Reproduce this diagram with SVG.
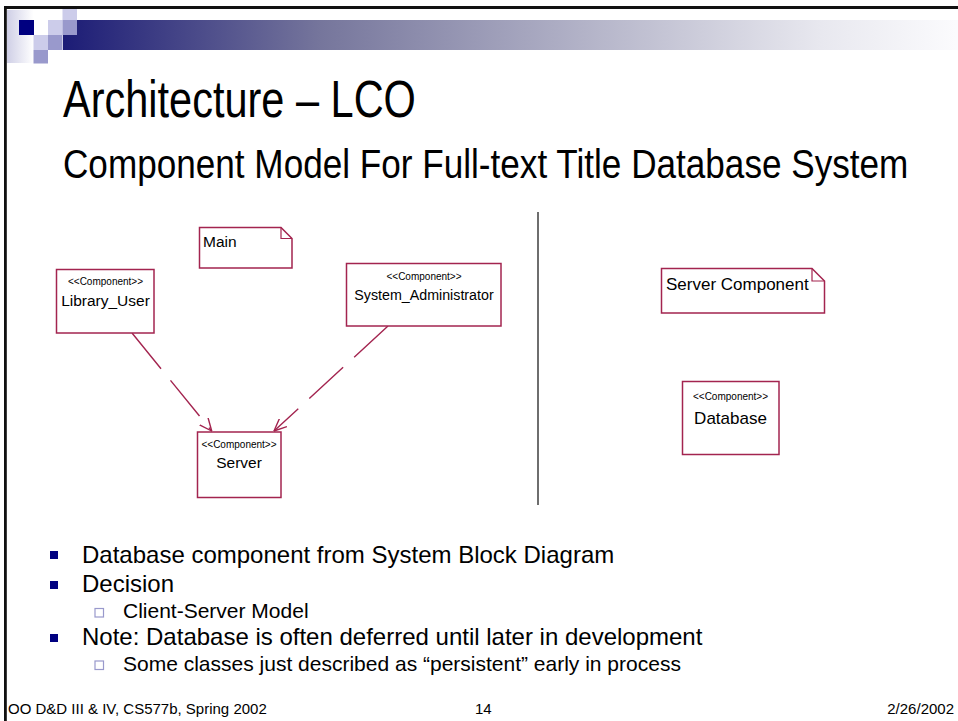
<svg xmlns="http://www.w3.org/2000/svg" width="958" height="721" viewBox="0 0 958 721">
  <defs>
    <linearGradient id="barGrad" x1="63" y1="0" x2="955" y2="0" gradientUnits="userSpaceOnUse">
      <stop offset="0" stop-color="#1c1c76"/>
      <stop offset="0.29" stop-color="#76769c"/>
      <stop offset="0.6" stop-color="#b6b6ca"/>
      <stop offset="0.85" stop-color="#e8e8ef"/>
      <stop offset="1" stop-color="#fbfbfd"/>
    </linearGradient>
    <linearGradient id="sideGrad" x1="0" y1="0" x2="1" y2="0">
      <stop offset="0" stop-color="#cfcfe6"/>
      <stop offset="1" stop-color="#ffffff"/>
    </linearGradient>
    <marker id="openArrow" viewBox="0 0 13 12" refX="12.5" refY="6" markerWidth="13" markerHeight="12" markerUnits="userSpaceOnUse" orient="auto">
      <path d="M0,0.5 L12.5,6 L0,11.5" fill="none" stroke="#a3244f" stroke-width="1.4"/>
    </marker>
    <style>
      .txt { font-family: "Liberation Sans", Arial, sans-serif; fill: #000; }
      .box { fill: #fff; stroke: #a3244f; stroke-width: 1.5; }
      .stereo { font-size: 10px; text-anchor: middle; }
      .cname { font-size: 15.5px; text-anchor: middle; }
      .dep { fill: none; stroke: #a3244f; stroke-width: 1.4; stroke-dasharray: 46 15; marker-end: url(#openArrow); }
      .bullet { fill: #000080; }
      .sub { fill: #fff; stroke: #9999cc; stroke-width: 1.2; }
      .l1 { font-size: 24px; }
      .l2 { font-size: 21px; }
      .foot { font-size: 15px; }
    </style>
  </defs>

  <rect width="958" height="721" fill="#fff"/>

  <!-- header decoration -->
  <g id="header">
    <rect x="7" y="10" width="26.5" height="53" fill="url(#sideGrad)"/>
    <rect x="63" y="20" width="895" height="30" fill="url(#barGrad)"/>
    <rect x="62.5" y="9" width="14.5" height="11" fill="#ccccea"/>
    <rect x="19" y="20" width="15" height="15" fill="#000080"/>
    <rect x="48" y="20" width="14.5" height="15" fill="#ccccea"/>
    <rect x="62.5" y="20" width="14.5" height="15" fill="#9999cc"/>
    <rect x="33.5" y="35" width="14.5" height="15" fill="#ccccea"/>
    <rect x="48" y="35" width="14.5" height="15" fill="#9999cc"/>
    <rect x="33.5" y="50" width="14.5" height="13.5" fill="#9999cc"/>
    <rect x="4" y="6" width="954" height="3" fill="#111"/>
    <rect x="4" y="6" width="2.8" height="715" fill="#111"/>
  </g>

  <!-- titles (condensed horizontally) -->
  <text class="txt" font-size="51" transform="translate(63,117) scale(0.814,1)">Architecture – LCO</text>
  <text class="txt" font-size="41" transform="translate(63,178) scale(0.857,1)">Component Model For Full-text Title Database System</text>

  <!-- divider -->
  <line x1="538" y1="212" x2="538" y2="505" stroke="#4a4a4a" stroke-width="1.6"/>

  <!-- connectors -->
  <g id="connectors">
    <path class="dep" d="M132,333 L211.7,431"/>
    <path class="dep" d="M388,326 L274,431"/>
  </g>

  <!-- nodes -->
  <g id="note-main">
    <path class="box" d="M199.5,227.5 H281 L292,238.5 V268 H199.5 Z"/>
    <path d="M281,227.5 V238.5 H292" fill="none" stroke="#a3244f" stroke-width="1.2"/>
    <text class="txt" x="203" y="247" font-size="15.5">Main</text>
  </g>

  <g id="library-user">
    <rect class="box" x="56.5" y="269.5" width="97.5" height="63.5"/>
    <text class="txt stereo" x="105.5" y="285">&lt;&lt;Component&gt;&gt;</text>
    <text class="txt cname" x="105.5" y="306">Library_User</text>
  </g>

  <g id="system-administrator">
    <rect class="box" x="346.5" y="263.5" width="154.5" height="62.5"/>
    <text class="txt stereo" x="424" y="280">&lt;&lt;Component&gt;&gt;</text>
    <text class="txt" font-size="15.5" text-anchor="middle" transform="translate(424,300) scale(0.92,1)">System_Administrator</text>
  </g>

  <g id="server">
    <rect class="box" x="197.5" y="432" width="83.5" height="65.5"/>
    <text class="txt stereo" x="239" y="448">&lt;&lt;Component&gt;&gt;</text>
    <text class="txt cname" x="239" y="468">Server</text>
  </g>

  <g id="note-server-component">
    <path class="box" d="M661.5,268.5 H812 L824.5,281 V313 H661.5 Z"/>
    <path d="M812,268.5 V281 H824.5" fill="none" stroke="#a3244f" stroke-width="1.2"/>
    <text class="txt" x="666" y="290" font-size="17">Server Component</text>
  </g>

  <g id="database">
    <rect class="box" x="682.5" y="381.5" width="96.5" height="73"/>
    <text class="txt stereo" x="730.5" y="400">&lt;&lt;Component&gt;&gt;</text>
    <text class="txt" x="730.5" y="424" font-size="17" text-anchor="middle">Database</text>
  </g>

  <!-- bullet list -->
  <g id="bullets">
    <rect class="bullet" x="50" y="551" width="8" height="8"/>
    <text class="txt l1" x="82" y="563">Database component from System Block Diagram</text>
    <rect class="bullet" x="50" y="581" width="8" height="8"/>
    <text class="txt l1" x="82" y="592">Decision</text>
    <rect class="sub" x="95" y="608.5" width="8.5" height="8.5"/>
    <text class="txt l2" x="123" y="618">Client-Server Model</text>
    <rect class="bullet" x="50" y="634" width="8" height="8"/>
    <text class="txt l1" x="82" y="645">Note: Database is often deferred until later in development</text>
    <rect class="sub" x="95" y="661" width="8.5" height="8.5"/>
    <text class="txt l2" x="123" y="671">Some classes just described as “persistent” early in process</text>
  </g>

  <!-- footer -->
  <g id="footer">
    <text class="txt foot" x="8" y="714">OO D&amp;D III &amp; IV, CS577b, Spring 2002</text>
    <text class="txt foot" x="475" y="714">14</text>
    <text class="txt foot" x="954" y="714" text-anchor="end">2/26/2002</text>
  </g>
</svg>
